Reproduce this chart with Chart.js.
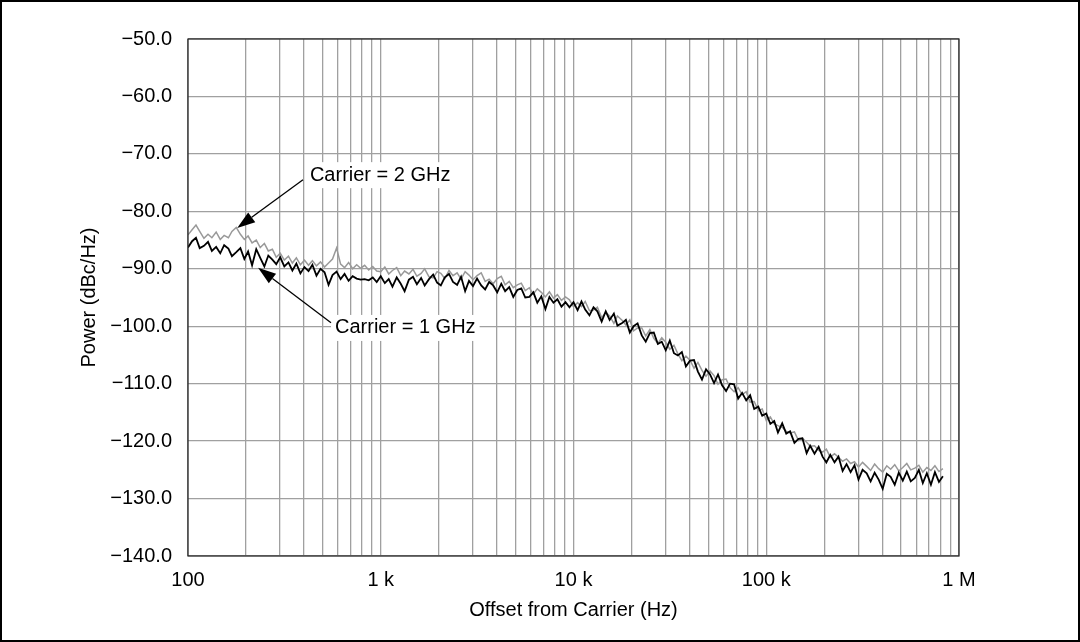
<!DOCTYPE html>
<html lang="en">
  <head>
    <meta charset="UTF-8" />
    <script src="https://cdn.jsdelivr.net/npm/chart.js"></script>
    <title>Phase noise vs offset</title>
    <style>
      * {
        margin: 0;
        padding: 0;
        box-sizing: border-box;
      }
      body {
        background: #fff;
      }
      #chart {
        display: block;
      }
    </style>
  </head>
  <body>
    <canvas id="chart" width="1080" height="642"></canvas>
    <script>
      // offset frequencies (Hz)
      const offsetHz = [
        100, 105, 110, 115, 121, 127, 133, 140, 147, 154, 162, 169, 178, 187, 196, 205, 215, 226, 237, 249,
        261, 274, 287, 301, 316, 332, 348, 365, 383, 402, 422, 442, 464, 487, 511, 536, 562, 590, 619, 649,
        681, 715, 750, 787, 825, 866, 909, 953,
        1000, 1050, 1100, 1150, 1210, 1270, 1330, 1400, 1470, 1540, 1620, 1690, 1780, 1870, 1960, 2050,
        2150, 2260, 2370, 2490, 2610, 2740, 2870, 3010, 3160, 3320, 3480, 3650, 3830, 4020, 4220, 4420,
        4640, 4870, 5110, 5360, 5620, 5900, 6190, 6490, 6810, 7150, 7500, 7870, 8250, 8660, 9090, 9530,
        10000, 10500, 11000, 11500, 12100, 12700, 13300, 14000, 14700, 15400, 16200, 16900, 17800, 18700,
        19600, 20500, 21500, 22600, 23700, 24900, 26100, 27400, 28700, 30100, 31600, 33200, 34800, 36500,
        38300, 40200, 42200, 44200, 46400, 48700, 51100, 53600, 56200, 59000, 61900, 64900, 68100, 71500,
        75000, 78700, 82500, 86600, 90900, 95300,
        100000, 105000, 110000, 115000, 121000, 127000, 133000, 140000, 147000, 154000, 162000, 169000,
        178000, 187000, 196000, 205000, 215000, 226000, 237000, 249000, 261000, 274000, 287000, 301000,
        316000, 332000, 348000, 365000, 383000, 402000, 422000, 442000, 464000, 487000, 511000, 536000,
        562000, 590000, 619000, 649000, 681000, 715000, 750000, 787000, 825000
      ];

      // Carrier = 1 GHz (black trace), dBc/Hz
      const carrier1GHz = [
        -86.3, -85.2, -84.6, -86.4, -86.0, -85.3, -86.9, -86.2, -87.3, -85.9,
        -86.5, -87.8, -87.1, -86.4, -88.3, -87.0, -89.4, -86.6, -88.1, -89.6,
        -87.7, -88.4, -89.2, -88.0, -89.6, -88.9, -90.3, -89.1, -90.8, -89.7,
        -90.4, -89.3, -91.2, -90.0, -90.6, -92.8, -91.1, -90.5, -91.8, -90.9,
        -92.1, -91.3, -91.7, -91.9, -91.8, -92.0, -91.5, -92.3,
        -91.3, -92.5, -91.8, -93.1, -91.5, -92.6, -93.9, -91.9, -91.4, -92.7,
        -91.6, -92.9, -91.8, -91.0, -92.4, -92.9, -91.5, -90.9, -92.3, -92.8,
        -91.4, -93.9, -92.1, -93.0, -91.7, -92.9, -93.6, -92.3, -92.9, -94.1,
        -92.6, -93.9, -93.2, -94.9, -93.7, -93.4, -95.0, -94.9, -94.1, -95.9,
        -94.8, -97.0, -94.9, -95.9, -95.3, -96.6, -95.8, -96.7,
        -95.8, -97.2, -95.7, -97.1, -98.1, -96.7, -97.4, -99.2, -97.4, -98.9,
        -97.8, -99.9, -99.5, -98.9, -101.1, -100.0, -99.5, -101.6, -102.7, -101.2,
        -101.1, -103.1, -102.7, -104.2, -102.5, -104.7, -105.1, -104.5, -107.0, -106.0,
        -105.9, -107.9, -109.3, -107.5, -108.4, -109.9, -108.4, -110.3, -111.3, -110.0,
        -110.1, -112.6, -111.6, -112.9, -112.0, -114.4, -114.0, -115.6,
        -115.2, -117.0, -116.5, -118.5, -116.9, -118.7, -118.3, -120.3, -119.6, -119.5,
        -122.1, -120.8, -122.2, -121.0, -122.7, -123.7, -122.4, -123.7, -122.7, -125.2,
        -124.0, -125.4, -124.2, -126.7, -125.0, -125.6, -127.0, -125.5, -126.7, -128.3,
        -125.7, -126.2, -127.6, -125.5, -126.9, -125.3, -127.0, -126.4, -125.0, -127.3,
        -125.6, -127.6, -125.4, -127.1, -126.1
      ];

      // Carrier = 2 GHz (grey trace), dBc/Hz
      const carrier2GHz = [
        -84.1, -83.2, -82.4, -83.5, -84.7, -84.0, -84.6, -83.6, -84.9, -84.2,
        -84.6, -83.5, -82.8, -84.0, -84.9, -84.3, -85.5, -85.0, -86.3, -85.6,
        -86.9, -86.6, -88.0, -87.3, -88.5, -87.8, -89.0, -88.1, -89.3, -88.5,
        -89.4, -88.6, -89.5, -88.8, -89.7, -89.0, -88.3, -86.4, -89.2, -89.8,
        -88.9, -90.0, -89.3, -89.9, -89.4, -90.2, -89.6, -90.4,
        -90.5, -89.7, -90.9, -90.3, -89.8, -91.2, -90.4, -90.9, -90.1, -91.3,
        -90.8, -90.0, -91.4, -91.6, -90.5, -90.8, -91.7, -90.3, -91.2, -90.7,
        -91.8, -90.5, -91.1, -91.9, -91.2, -90.7, -92.2, -91.8, -92.6, -91.7,
        -91.3, -92.8, -92.2, -93.3, -92.8, -92.5, -93.8, -93.3, -94.4, -93.5,
        -94.1, -94.9, -94.0, -95.1, -94.5, -95.5, -94.9, -95.4,
        -96.6, -95.9, -96.6, -95.7, -97.3, -97.2, -96.7, -98.5, -97.6, -98.2,
        -99.5, -98.2, -98.9, -99.8, -98.9, -100.8, -100.3, -100.3, -101.7, -100.6,
        -102.1, -103.0, -102.0, -102.8, -104.0, -103.3, -104.8, -106.0, -105.2, -105.9,
        -107.3, -106.3, -107.7, -108.7, -107.8, -108.6, -110.1, -109.3, -109.2, -110.7,
        -111.4, -110.7, -111.9, -111.4, -113.2, -113.1, -114.7, -114.4,
        -116.4, -115.8, -117.0, -117.3, -117.6, -118.3, -118.6, -118.4, -119.9, -119.5,
        -120.2, -120.9, -120.8, -121.6, -121.9, -121.4, -122.8, -122.2, -122.8, -123.5,
        -123.1, -123.9, -123.6, -124.5, -123.7, -124.4, -125.1, -124.0, -124.8, -125.4,
        -124.3, -124.9, -124.1, -125.2, -124.6, -123.9, -125.0, -124.7, -124.2, -125.4,
        -124.6, -125.1, -124.3, -125.3, -124.8
      ];

      const decadeTicks = [100, 1000, 10000, 100000, 1000000];
      const decadeLabels = ['100', '1 k', '10 k', '100 k', '1 M'];
      const powerTicks = [-140, -130, -120, -110, -100, -90, -80, -70, -60, -50];

      // callout text anchor, arrow tail and arrow tip in data units (Hz, dBc/Hz)
      const callouts = [
        { text: 'Carrier = 2 GHz', at: [429, -73.7], from: [395, -74.5], to: [180, -82.9] },
        { text: 'Carrier = 1 GHz', at: [579, -100.3], from: [552, -99.4], to: [231, -89.8] },
      ];

      // grid lines at 1..9 x each decade
      const gridTicks = [];
      decadeTicks.slice(0, -1).forEach((d) => {
        for (let m = 1; m <= 9; m++) gridTicks.push(m * d);
      });
      gridTicks.push(1000000);

      const FONT = '"Liberation Sans", Arial, Helvetica, sans-serif';
      Chart.defaults.font.family = FONT;
      Chart.defaults.color = '#000';

      const frame = {
        id: 'frame',
        beforeDraw(chart) {
          const ctx = chart.ctx;
          ctx.save();
          ctx.fillStyle = '#fff';
          ctx.fillRect(0, 0, chart.width, chart.height);
          ctx.restore();
        },
        afterDraw(chart) {
          const { ctx, chartArea: a } = chart;
          const x = chart.scales.x;
          const y = chart.scales.y;
          ctx.save();
          ctx.strokeStyle = '#222';
          ctx.lineWidth = 1.2;
          ctx.strokeRect(a.left, a.top, a.right - a.left, a.bottom - a.top);

          ctx.font = '20px ' + FONT;
          ctx.textBaseline = 'middle';
          callouts.forEach((c) => {
            const tx = x.getPixelForValue(c.at[0]);
            const ty = y.getPixelForValue(c.at[1]);
            const w = ctx.measureText(c.text).width;
            ctx.fillStyle = '#fff';
            ctx.fillRect(tx - 4, ty - 13, w + 8, 26);
            ctx.fillStyle = '#000';
            ctx.fillText(c.text, tx, ty);

            const x0 = x.getPixelForValue(c.from[0]);
            const y0 = y.getPixelForValue(c.from[1]);
            const x1 = x.getPixelForValue(c.to[0]);
            const y1 = y.getPixelForValue(c.to[1]);
            const ang = Math.atan2(y1 - y0, x1 - x0);
            const len = 18;
            const half = 6;
            const bx = x1 - len * Math.cos(ang);
            const by = y1 - len * Math.sin(ang);
            ctx.strokeStyle = '#000';
            ctx.lineWidth = 1.3;
            ctx.beginPath();
            ctx.moveTo(x0, y0);
            ctx.lineTo(bx, by);
            ctx.stroke();
            ctx.beginPath();
            ctx.moveTo(x1, y1);
            ctx.lineTo(bx + half * Math.sin(ang), by - half * Math.cos(ang));
            ctx.lineTo(bx - half * Math.sin(ang), by + half * Math.cos(ang));
            ctx.closePath();
            ctx.fill();
          });

          ctx.strokeStyle = '#000';
          ctx.lineWidth = 2;
          ctx.strokeRect(1, 1, chart.width - 2, chart.height - 2);
          ctx.restore();
        },
      };

      const toPoints = (ys) => offsetHz.map((f, i) => ({ x: f, y: ys[i] }));

      new Chart(document.getElementById('chart'), {
        type: 'line',
        data: {
          datasets: [
            {
              label: 'Carrier = 1 GHz',
              data: toPoints(carrier1GHz),
              borderColor: '#000',
              borderWidth: 1.8,
              pointRadius: 0,
              tension: 0,
            },
            {
              label: 'Carrier = 2 GHz',
              data: toPoints(carrier2GHz),
              borderColor: '#999',
              borderWidth: 1.5,
              pointRadius: 0,
              tension: 0,
            },
          ],
        },
        options: {
          responsive: false,
          animation: false,
          layout: { padding: { left: 0, top: 39, right: 121, bottom: 0 } },
          plugins: { legend: { display: false }, tooltip: { enabled: false } },
          scales: {
            x: {
              type: 'logarithmic',
              min: 100,
              max: 1000000,
              afterBuildTicks: (s) => {
                s.ticks = gridTicks.map((v) => ({ value: v }));
              },
              afterFit: (s) => {
                s.height = 86;
              },
              grid: { color: '#a0a0a0', lineWidth: 1.3, drawTicks: false },
              border: { display: false },
              ticks: {
                autoSkip: false,
                maxRotation: 0,
                padding: 12,
                font: { size: 20 },
                callback: (v) => {
                  const i = decadeTicks.indexOf(v);
                  return i < 0 ? '' : decadeLabels[i];
                },
              },
              title: {
                display: true,
                text: 'Offset from Carrier (Hz)',
                font: { size: 20 },
                padding: { top: 0, bottom: 20 },
              },
            },
            y: {
              min: -140,
              max: -50,
              afterBuildTicks: (s) => {
                s.ticks = powerTicks.map((v) => ({ value: v }));
              },
              afterFit: (s) => {
                s.width = 188;
              },
              grid: { color: '#a0a0a0', lineWidth: 1.3, drawTicks: false },
              border: { display: false },
              ticks: {
                padding: 16,
                font: { size: 20 },
                callback: (v) => '\u2212' + Math.abs(v).toFixed(1),
              },
              title: {
                display: true,
                text: 'Power (dBc/Hz)',
                font: { size: 20 },
                padding: { top: 77, bottom: 0 },
              },
            },
          },
        },
        plugins: [frame],
      });
    </script>
  </body>
</html>
